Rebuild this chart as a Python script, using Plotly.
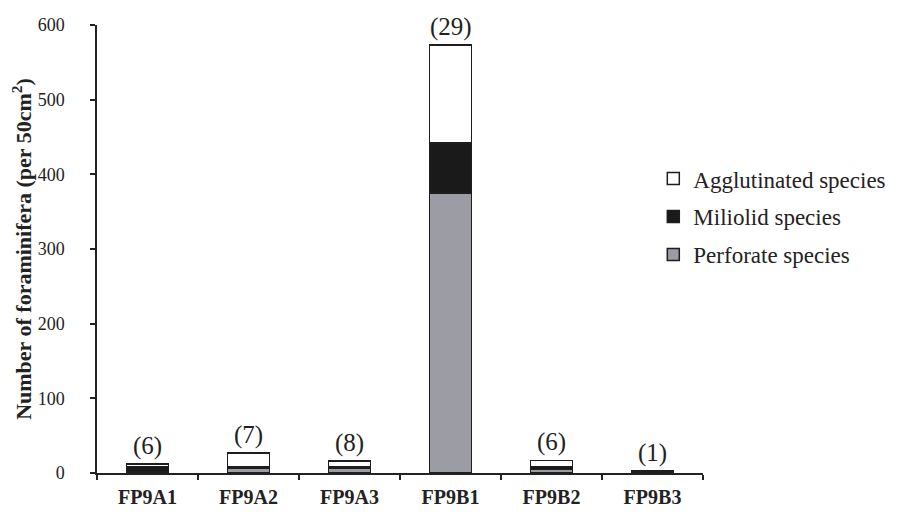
import plotly.graph_objects as go

categories = ["FP9A1", "FP9A2", "FP9A3", "FP9B1", "FP9B2", "FP9B3"]
perforate = [2, 7, 7, 375, 5, 1]
miliolid = [7, 2, 2, 67, 4, 2]
agglutinated = [3, 18, 7, 131, 8, 0]
species_counts = ["(6)", "(7)", "(8)", "(29)", "(6)", "(1)"]

totals = [p + m + a for p, m, a in zip(perforate, miliolid, agglutinated)]

SERIF = "Liberation Serif, Times New Roman, serif"
OUTLINE = dict(color="#1e1e1e", width=1.5)

fig = go.Figure()
fig.add_trace(go.Bar(x=categories, y=perforate, name="Perforate species",
                     marker=dict(color="#9b9ca4", line=OUTLINE), width=0.42,
                     legendgroup="p", legendrank=3))
fig.add_trace(go.Bar(x=categories, y=miliolid, name="Miliolid species",
                     marker=dict(color="#1a1a1a", line=OUTLINE), width=0.42,
                     legendgroup="m", legendrank=2))
fig.add_trace(go.Bar(x=categories, y=agglutinated, name="Agglutinated species",
                     marker=dict(color="#ffffff", line=OUTLINE), width=0.42,
                     legendgroup="a", legendrank=1))

for c, t, lab in zip(categories, totals, species_counts):
    fig.add_annotation(x=c, y=t, text=lab, showarrow=False, yanchor="bottom",
                       yshift=2, font=dict(family=SERIF, size=25, color="#222"))

# page body has an 8px margin, so the figure is sized to fit inside the window
fig.update_layout(
    barmode="stack",
    width=895, height=504,
    margin=dict(l=89, r=176, t=17, b=39),
    paper_bgcolor="white", plot_bgcolor="white",
    font=dict(family=SERIF, color="#222"),
    showlegend=True,
    legend=dict(x=0.918, xanchor="left", y=0.705, yanchor="top",
                traceorder="grouped", tracegroupgap=5, itemwidth=30,
                font=dict(family=SERIF, size=23, color="#222"),
                bgcolor="rgba(0,0,0,0)"),
    xaxis=dict(showline=True, linecolor="#222", linewidth=1.5,
               ticks="outside", tickson="boundaries", ticklen=5,
               tickcolor="#222", tickwidth=1.5, showgrid=False,
               automargin=False,
               tickfont=dict(family=SERIF, size=20, color="#222"),
               ticklabelstandoff=5),
    yaxis=dict(range=[0, 600], dtick=100, showline=True, linecolor="#222",
               linewidth=1.5, ticks="outside", ticklen=5, tickcolor="#222",
               tickwidth=1.5, showgrid=False, zeroline=False,
               automargin=False, ticklabelstandoff=22,
               tickfont=dict(family=SERIF, size=18, color="#222"),
               title=dict(text="<b>Number of foraminifera (per 50cm<sup>2</sup>)</b>",
                          font=dict(family=SERIF, size=22, color="#222"),
                          standoff=8)),
)
fig.update_xaxes(tickprefix="<b>", ticksuffix="</b>")

fig.write_html("out.html")
